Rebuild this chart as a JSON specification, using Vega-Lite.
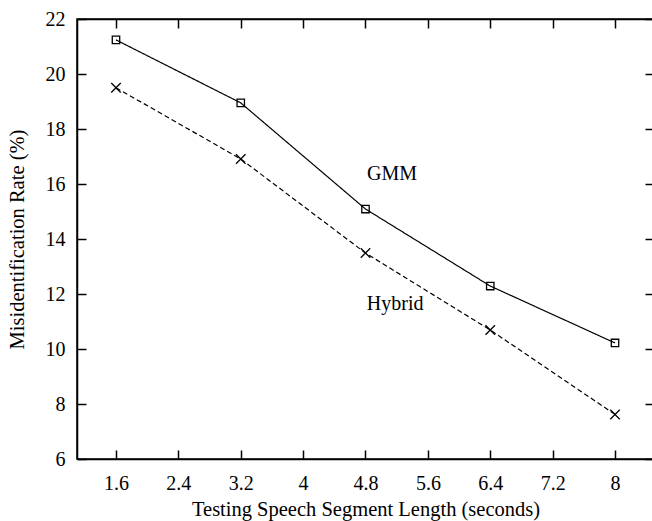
{
  "$schema": "https://vega.github.io/schema/vega-lite/v6.json",
  "width": 577,
  "height": 440,
  "padding": {"left": 77, "top": 19, "right": 0, "bottom": 62},
  "autosize": {"type": "none"},
  "background": "white",
  "config": {
    "font": "Liberation Serif",
    "view": {"stroke": "black", "strokeWidth": 1.5},
    "axis": {
      "grid": false,
      "domainColor": "black",
      "domainWidth": 1.5,
      "tickColor": "black",
      "tickWidth": 1.5,
      "labelColor": "black",
      "titleColor": "black",
      "labelFontSize": 20,
      "titleFontSize": 20.5,
      "titleFontWeight": "normal",
      "labelFont": "Liberation Serif",
      "titleFont": "Liberation Serif"
    }
  },
  "datasets": {
    "pts": [
      {"len": 1.6, "rate": 21.24, "series": "GMM"},
      {"len": 3.2, "rate": 18.95, "series": "GMM"},
      {"len": 4.8, "rate": 15.09, "series": "GMM"},
      {"len": 6.4, "rate": 12.29, "series": "GMM"},
      {"len": 8.0, "rate": 10.22, "series": "GMM"},
      {"len": 1.6, "rate": 19.5, "series": "Hybrid"},
      {"len": 3.2, "rate": 16.91, "series": "Hybrid"},
      {"len": 4.8, "rate": 13.49, "series": "Hybrid"},
      {"len": 6.4, "rate": 10.69, "series": "Hybrid"},
      {"len": 8.0, "rate": 7.62, "series": "Hybrid"}
    ],
    "labels": [
      {"len": 5.14, "rate": 16.38, "text": "GMM"},
      {"len": 5.18, "rate": 11.64, "text": "Hybrid"}
    ]
  },
  "layer": [
    {
      "data": {"name": "pts"},
      "mark": {"type": "line", "color": "black", "strokeWidth": 1.2},
      "encoding": {
        "x": {
          "field": "len", "type": "quantitative",
          "scale": {"domain": [1.1, 8.5], "nice": false, "zero": false},
          "axis": {
            "values": [1.6, 2.4, 3.2, 4.0, 4.8, 5.6, 6.4, 7.2, 8.0],
            "labelExpr": "'' + datum.value",
            "tickSize": -9,
            "labelPadding": 23,
            "title": "Testing Speech Segment Length (seconds)",
            "titlePadding": 6
          }
        },
        "y": {
          "field": "rate", "type": "quantitative",
          "scale": {"domain": [6, 22], "nice": false, "zero": false},
          "axis": {
            "values": [6, 8, 10, 12, 14, 16, 18, 20, 22],
            "tickSize": -9,
            "labelPadding": 21,
            "title": "Misidentification Rate (%)",
            "titlePadding": 18
          }
        },
        "strokeDash": {
          "field": "series", "type": "nominal",
          "scale": {"domain": ["GMM", "Hybrid"], "range": [[1, 0], [5, 3]]},
          "legend": null
        }
      }
    },
    {
      "data": {"name": "pts"},
      "mark": {"type": "point", "filled": false, "color": "black", "strokeWidth": 1.3, "opacity": 1},
      "encoding": {
        "x": {"field": "len", "type": "quantitative", "axis": {"orient": "top", "values": [1.6, 2.4, 3.2, 4.0, 4.8, 5.6, 6.4, 7.2, 8.0], "labels": false, "tickSize": -9, "title": null}},
        "y": {"field": "rate", "type": "quantitative", "axis": {"orient": "right", "values": [6, 8, 10, 12, 14, 16, 18, 20, 22], "labels": false, "tickSize": -9, "title": null}},
        "shape": {
          "field": "series", "type": "nominal",
          "scale": {"domain": ["GMM", "Hybrid"], "range": ["square", "M-1,-1L1,1M1,-1L-1,1"]},
          "legend": null
        },
        "size": {
          "field": "series", "type": "nominal",
          "scale": {"domain": ["GMM", "Hybrid"], "range": [55, 90]},
          "legend": null
        }
      }
    },
    {
      "data": {"name": "labels"},
      "mark": {"type": "text", "fontSize": 20, "font": "Liberation Serif", "color": "black", "align": "center", "baseline": "middle"},
      "encoding": {
        "x": {"field": "len", "type": "quantitative", "axis": null},
        "y": {"field": "rate", "type": "quantitative", "axis": null},
        "text": {"field": "text", "type": "nominal"}
      }
    }
  ],
  "resolve": {"axis": {"x": "independent", "y": "independent"}}
}
